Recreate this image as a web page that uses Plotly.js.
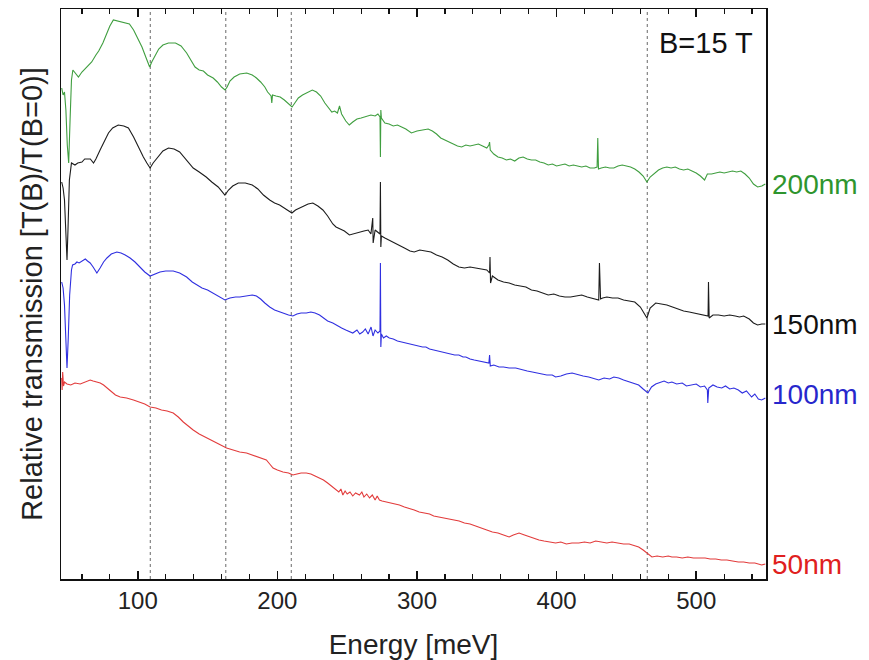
<!DOCTYPE html>
<html><head><meta charset="utf-8">
<script src="https://cdn.plot.ly/plotly-3.0.1.min.js"></script>
<style>html,body{margin:0;padding:0;background:#fff}</style>
</head><body><div id="chart" style="width:869px;height:660px"></div>
<script>
// Energy [meV] and relative transmission (arbitrary offset units)
const e200 = [45.5,46.5,47.5,48.5,49.5,50.5,51.5,52.5,53.5,55.5,57.5,60,63.5,67,70,72,75,78,80,82.5,85,88,91,94,97,100,103,106,108.5,110,112.5,115,118,122,127,131,135,138,141,144,147,150,154,157,160,162.5,164,166,169,173,178,182,185,188,191,193,195.5,196,196.5,199,202,205,208,210.5,212,215,218,222,225,228,231,234,237,239,241,243,244.5,246,249,251.5,254,257,260,264,267,270,272,273.5,273.8,274.1,274.5,277,280,283,286,289,292,296,300,304,308,311,314,317,320,323,326,329,332,335,338,341,344,347,350,351.5,352,352.5,355,358,361,364,367,370,373,376,379,382,385,388,391,394,397,400,403,406,409,412,415,418,421,424,427,429,429.5,430,432,435,438,441,444,447,450,453,456,459,462,464.7,467,470,473,476,479,482,485,488,491,494,497,500,503,506,508,511,514,517,520,523,526,529,532,535,538,541,544,547,549.5];
const t200 = [512,505,508,490,455,437,480,520,530,527,523,528,533,538,545,549,557,567,574,580,579,578,577,576,570,561,553,542,533,538,545,551,555,557,557,554,547,540,533,530,529,525,522,518,513,510,513,519,523,526,527,525,522,518,513,508,504,497,505,504,503,500,496,493,496,502,505,508,510,508,504,497,491,488,489,487,494,486,479,475,478,481,482,484,485,484,486,483,443,490,482,477,476,474,475,473,471,467,469,470,471,469,466,462,460,458,456,454,453,455,454,455,456,454,452,455,458,450,446,443,442,440,441,439,442,443,441,440,440,438,437,435,436,434,435,436,434,435,434,433,434,432,432,433,462,431,432,433,432,432,434,435,434,433,431,428,424,418,423,427,430,432,433,432,433,431,430,431,429,427,424,420,426,426,427,428,427,428,429,428,429,426,422,416,413,414,416];

const e150 = [45.5,46.5,47.5,48.5,49.3,50,51,52.5,55,57,60,62,64,66,68.3,70,73,76,79,82,86,90,93.3,97,100.4,104,106.5,108.8,111,114.7,118,122,126,130,133,136,139.7,144,149,153,157.6,162.4,165,168,172,177,182,186,190,194.5,198,201.6,205,208,210.4,213,218,222,225.4,229,232.6,236,239.7,242,245,248,251.6,256,259,262,265,267,268.3,268.6,270,272,273.5,273.8,274.1,274.5,277,280,284,287,291,295,298,302,306,310,314,318,322,326,330,334,338,342,346,350,352,352.3,352.7,354,358,362,366,370,374,378,382,386,390,394,398,402,406,410,414,418,422,425,428,430.2,430.7,431.5,433,436,440,444,448,452,456,460,464.7,467,471,475,479,483,487,491,495,499,503,506,508.5,508.8,509.3,512,516,520,524,528,531,534,538,541,544,547,549.5];
const t150 = [418,412,400,370,340,370,420,437,435,437,438,441,441,441,437,441,450,459,467,472,475,474,472,463,453,443,437,432,437,443,449,452,451,448,443,438,432,428,423,418,413,405,410,414,417,417,415,411,405,400,397,395,392,390,387,390,393,396,397,394,390,384,376,373,371,369,365,367,368,369,370,366,382,357,370,368,366,418,353,364,362,360,357,355,352,349,348,350,349,348,345,343,340,336,333,332,333,332,331,330,327,343,317,324,320,318,317,315,314,313,310,309,307,305,306,304,303,303,304,305,303,302,301,300,337,301,302,303,302,302,300,299,298,293,282,292,297,296,295,293,291,289,288,287,286,285,284,318,282,285,285,284,285,284,283,284,281,277,275,276,276];

const e100 = [45.5,46.5,47.5,48.5,49.3,50.2,51.2,52.5,53.3,55,56.4,58,60,62.4,64,65.9,68,70.7,73,75.5,77.9,81,85,88,91,94.5,98,101.6,105,108.8,112,115.9,120,125.4,130,135,139,142.1,146,150,154,158,162.4,166,170,173.1,178,182,185,188,191,194.5,198,201.6,205,208,211.1,214,217,220.7,224,227,230.2,233,236,239.7,243,246,249,251.6,254,257,259,261.1,263,265,267.1,268.5,270,272,273.5,273.8,274.1,274.5,276,278,280.2,283,286,289,292.1,295,298,301,304,306.4,309,312,315,318,320.7,324,327,330,333,335,338,341,344,347,349.3,351.5,352,352.5,355,358.8,362,366,370.7,375.4,379,382.6,386,390,393,396.9,399.3,403,407,411.1,415.9,419,423,427,430.2,434,438,441,444.5,448,452,455,458.8,462,465.4,468,471,473,477,480,482.6,486,490,493,496.9,500,503,506,508,508.3,509,512,515,518.3,521,524,527,530.2,533,536,539.7,542,544.5,546.9,549.5];
const t100 = [318,312,295,262,232,262,305,330,335,336,338,337,339,341,339,337,333,327,332,338,342,346,348,347,345,342,338,333,328,324,326,328,329,329,327,323,318,315,312,310,307,304,300,302,303,303,304,305,304,301,297,293,290,288,286,285,284,286,287,287,288,287,285,282,279,277,274,272,270,268,267,270,266,268,271,266,273,264,270,267,269,337,253,266,262,264,262,261,259,258,257,256,255,254,253,253,251,250,249,248,247,246,245,245,243,243,241,240,239,238,237,237,245,234,235,233,233,232,232,230,229,228,227,226,225,225,223,224,226,227,225,224,223,221,220,222,221,223,222,220,218,217,215,211,207,213,216,217,219,217,218,216,217,214,215,216,213,214,210,197,212,215,213,212,214,211,212,210,207,209,203,206,201,200,202];

const e50 = [45.5,45.8,46.2,46.8,47.5,49.3,52,55,58.8,62,65.9,68,70,73.1,75.5,77.9,81,84,87.4,92,96.9,101,105,108.8,113,117,121,125.4,129,132.6,136,139.7,144,149.3,153,158,163.6,168,173,177.9,182,187,192.1,194.5,196.9,200,204,208,211.1,214,217,220.7,224,227,230.2,233,236,239.7,242,244,245.5,246.9,248.5,250,252,254,256,258.8,260.5,262,264,266,268,270,271.5,273.1,275,278,281,284,287.4,291,294,298,301.6,305,309,312,315.9,320,324,327,330.2,334,338,342,346.9,350,354,358,362,366,369,373.1,377,381,384,387.4,391,395,399.3,403,407,411,415.9,420,424,428,432,436,439.7,444,448,452,455,458.8,462,465,468.3,472,476,480,482.6,486,490,494,498,502,506.4,510,514,518,522,526,530.2,534,538,542,546.9,549.5];
const t50 = [222,210,228,214,218,216,215,217,216,218,220,219,218,217,215,212,208,205,203,202,200,198,196,193,192,190,189,187,183,178,174,170,166,162,159,156,152,150,148,147,145,143,140,136,132,130,128,127,125,126,127,127,126,124,122,120,117,113,111,108,111,105,109,106,108,104,107,105,108,103,106,102,105,100,104,100,99,98,97,96,95,93,92,90,88,87,86,84,83,82,81,80,79,77,76,74,72,70,68,67,65,63,65,67,65,63,61,60,59,58,57,58,56,57,57,58,57,59,58,57,58,57,56,56,55,53,50,47,43,44,43,44,43,43,42,43,42,42,42,41,41,40,40,39,38,38,37,37,35,36];

const seriesNames = ['200nm', '150nm', '100nm', '50nm'];
const resonanceE = [109, 163, 210, 465];
const tickVals = [100, 200, 300, 400, 500];
const tickText = ['100', '200', '300', '400', '500'];

const xs = [e200, e150, e100, e50];
const ys = [t200, t150, t100, t50];
const lineColors = ['#3f9e3f', '#1c1c1c', '#2f2fe0', '#e23b3b'];
const labelColors = ['#2e952e', '#111111', '#2727cc', '#e02020'];
const labelShift = [0, 0, 4, 0];
const FONT = 'Liberation Sans, Arial, Helvetica, sans-serif';

const traces = xs.map((x, i) => ({
  x: x, y: ys[i], type: 'scatter', mode: 'lines', name: seriesNames[i],
  line: {color: lineColors[i], width: 1.1}, hoverinfo: 'x+name'
}));

const shapes = resonanceE.map(e => ({
  type: 'line', xref: 'x', yref: 'paper', x0: e, x1: e, y0: 0, y1: 1,
  layer: 'below', line: {color: '#8c8c8c', width: 1.3, dash: 'dot'}
}));

const annotations = seriesNames.map((n, i) => ({
  xref: 'paper', x: 1, xanchor: 'left', xshift: 4,
  yref: 'y', y: ys[i][ys[i].length - 1], yanchor: 'middle', yshift: labelShift[i],
  text: n, showarrow: false, font: {family: FONT, size: 28, color: labelColors[i]}
}));
annotations.push({
  xref: 'paper', yref: 'paper', x: 0.915, y: 0.94, xanchor: 'center', yanchor: 'middle',
  text: 'B=15 T', showarrow: false, font: {family: FONT, size: 29, color: '#111'}
});

const layout = {
  width: 869, height: 660,
  margin: {l: 61, r: 103, t: 9, b: 81},
  paper_bgcolor: '#fff', plot_bgcolor: '#fff',
  showlegend: false,
  font: {family: FONT, color: '#222'},
  xaxis: {
    range: [45, 550], tickvals: tickVals, ticktext: tickText,
    ticks: 'inside', ticklen: 8, tickwidth: 1.5, tickcolor: '#111',
    minor: {dtick: 20, tick0: 0, ticks: 'inside', ticklen: 5, tickwidth: 1.2, tickcolor: '#111', showgrid: false},
    showline: true, linecolor: '#111', linewidth: 1.5, mirror: 'ticks',
    showgrid: false, zeroline: false,
    tickfont: {family: FONT, size: 24, color: '#222'},
    title: {text: 'Energy [meV]', font: {family: FONT, size: 28, color: '#222'}, standoff: 24}
  },
  yaxis: {
    range: [21, 591], showticklabels: false, ticks: '',
    showline: true, linecolor: '#111', linewidth: 1.5, mirror: true,
    showgrid: false, zeroline: false,
    title: {text: 'Relative transmission [T(B)/T(B=0)]', font: {family: FONT, size: 29, color: '#222'}, standoff: 8}
  },
  shapes: shapes,
  annotations: annotations
};

Plotly.newPlot('chart', traces, layout, {displayModeBar: false, staticPlot: true});
</script>
</body></html>
